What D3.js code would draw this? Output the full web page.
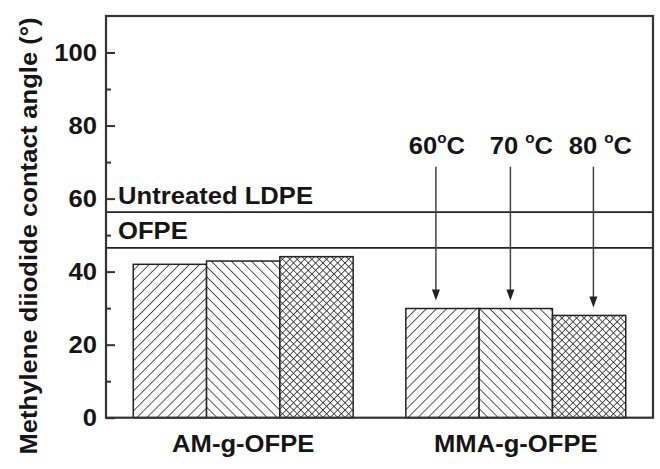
<!DOCTYPE html>
<html>
<head>
<meta charset="utf-8">
<script src="https://cdn.jsdelivr.net/npm/d3@7/dist/d3.min.js"></script>
<style>
  html, body { margin: 0; padding: 0; background: #fff; }
  svg { display: block; }
  text { font-family: "Liberation Sans", Arial, sans-serif; font-weight: bold; fill: #151515; }
</style>
</head>
<body>
<script>
// ---- data ----
const categories = ["AM-g-OFPE", "MMA-g-OFPE"];
const seriesNames = ["60", "70", "80"];          // treatment temperature, °C
const values60 = [42.0, 29.9];
const values70 = [42.9, 29.9];
const values80 = [44.1, 28.0];
const refNames = ["Untreated LDPE", "OFPE"];
const refValues = [56.3, 46.5];
const yTicksMajor = [0, 20, 40, 60, 80, 100];
const yTicksMinor = [10, 30, 50, 70, 90];

// ---- layout ----
const W = 660, H = 469;
const m = { left: 106, top: 16, right: 7, bottom: 51.3 };
const iw = W - m.left - m.right, ih = H - m.top - m.bottom;
const FS = 23.5, SX = 1.09;
const ink = "#222";

const svg = d3.select("body").append("svg").attr("width", W).attr("height", H);

// patterns
const defs = svg.append("defs");
function hatch(id, angle, size, cross) {
  const p = defs.append("pattern").attr("id", id)
    .attr("patternUnits", "userSpaceOnUse")
    .attr("width", size).attr("height", size)
    .attr("patternTransform", `rotate(${angle})`);
  p.append("rect").attr("width", size).attr("height", size).attr("fill", "#fff");
  p.append("line").attr("x1", 0).attr("y1", 0).attr("x2", 0).attr("y2", size)
    .attr("stroke", ink).attr("stroke-width", 1.5);
  if (cross) p.append("line").attr("x1", 0).attr("y1", 0).attr("x2", size).attr("y2", 0)
    .attr("stroke", ink).attr("stroke-width", 1.5);
}
hatch("p60", 45, 7.1, false);
hatch("p70", -45, 7.1, false);
hatch("p80", 45, 5.2, true);
const fills = ["url(#p60)", "url(#p70)", "url(#p80)"];

const g = svg.append("g").attr("transform", `translate(${m.left},${m.top})`);

const x0 = d3.scaleBand().domain(categories).range([0, iw]).paddingInner(0.1933).paddingOuter(0.1).align(0.5);
const x1 = d3.scaleBand().domain(seriesNames).range([0, x0.bandwidth()]).padding(0);
const y = d3.scaleLinear().domain([0, 110]).range([ih, 0]);

const seriesVals = [values60, values70, values80];

// bars
categories.forEach((c, ci) => {
  seriesNames.forEach((s, si) => {
    const v = seriesVals[si][ci];
    g.append("rect")
      .attr("x", x0(c) + x1(s))
      .attr("y", y(v))
      .attr("width", x1.bandwidth())
      .attr("height", y(0) - y(v))
      .attr("fill", fills[si])
      .attr("stroke", ink).attr("stroke-width", 1.5);
  });
});

// reference lines
refValues.forEach((v, i) => {
  g.append("line").attr("x1", 0).attr("x2", iw).attr("y1", y(v)).attr("y2", y(v))
    .attr("stroke", ink).attr("stroke-width", 1.8);
});
function stext(sel, x, yy, txt, anchor, rot) {
  const t = sel.append("text")
    .attr("transform", `translate(${x},${yy})` + (rot ? ` rotate(${rot})` : "") + ` scale(${SX},1)`)
    .attr("font-size", FS).attr("text-anchor", anchor || "start");
  if (txt !== null) t.text(txt);
  return t;
}
stext(g, 12, y(refValues[0]) - 8.5, refNames[0]);
stext(g, 12, y(refValues[1]) - 8.5, refNames[1]);

// arrows and temperature labels (MMA group)
const arrowDx = [-6.6, -5.4, 4.3];
const labelDx = [1, 11, 7];
const mmaCat = categories[1];
seriesNames.forEach((s, si) => {
  const cx = x0(mmaCat) + x1(s) + x1.bandwidth() / 2 + arrowDx[si];
  const tipY = y(seriesVals[si][1]) - 8;
  const startY = 166.7 - m.top;
  g.append("line").attr("x1", cx).attr("x2", cx).attr("y1", startY).attr("y2", tipY - 9)
    .attr("stroke", "#444").attr("stroke-width", 1.5);
  g.append("path")
    .attr("d", `M${cx - 4},${tipY - 11} L${cx + 4},${tipY - 11} L${cx},${tipY} Z`)
    .attr("fill", "#222");
  const t = stext(g, cx + labelDx[si], startY - 13, null, "middle");
  t.append("tspan").text(s + (si === 0 ? "" : " "));
  t.append("tspan").attr("font-size", 14).attr("dy", -11).text("o");
  t.append("tspan").attr("dy", 11).text("C");
});

// frame
g.append("rect").attr("x", 0).attr("y", 0).attr("width", iw).attr("height", ih)
  .attr("fill", "none").attr("stroke", "#333").attr("stroke-width", 2.2);

// y axis ticks (inward)
const yAxis = d3.axisLeft(y).tickValues(yTicksMajor).tickSize(-9).tickPadding(18);
const ya = g.append("g").call(yAxis);
ya.select(".domain").remove();
ya.selectAll(".tick line").attr("stroke", "#333").attr("stroke-width", 2);
ya.selectAll(".tick text").remove();
yTicksMajor.forEach(v => stext(g, -9, y(v) + 8.5, String(v), "end"));
const yMinor = d3.axisLeft(y).tickValues(yTicksMinor).tickSize(-5).tickFormat("");
const ym = g.append("g").call(yMinor);
ym.select(".domain").remove();
ym.selectAll(".tick line").attr("stroke", "#333").attr("stroke-width", 2);

// x category labels
categories.forEach(c => stext(g, x0(c) + x0.bandwidth() / 2, ih + 34, c, "middle"));

// y label
stext(svg, 37, 236, "Methylene diiodide contact angle (°)", "middle", -90);
</script>
</body>
</html>
